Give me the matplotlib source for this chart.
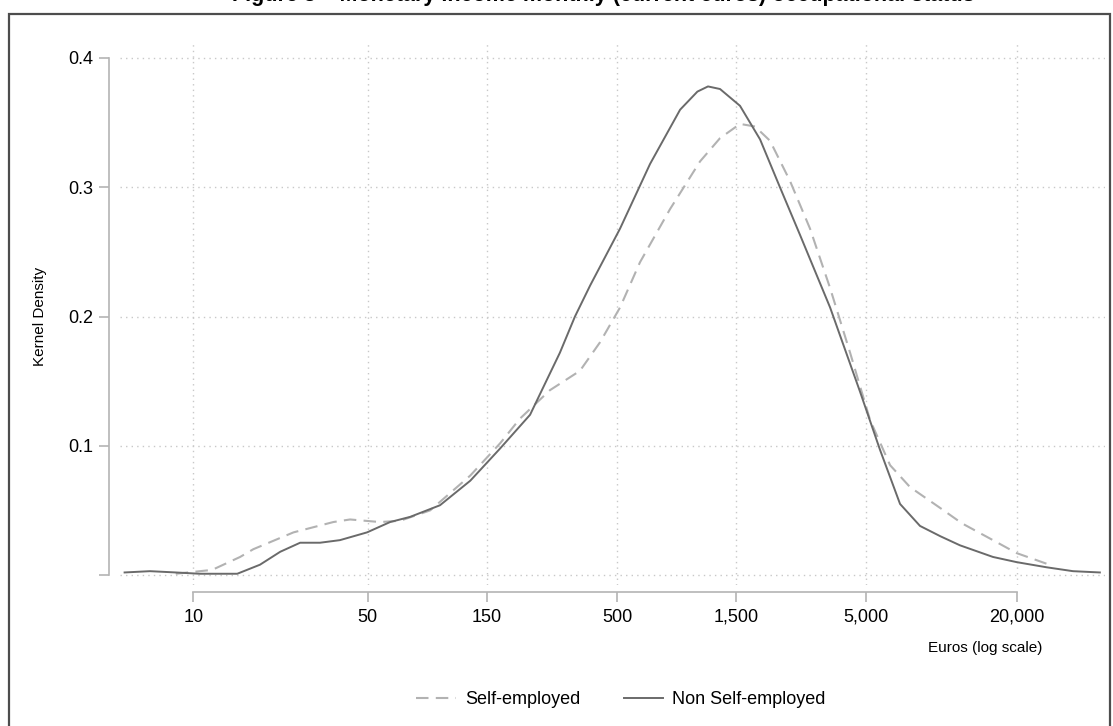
import matplotlib
matplotlib.use("Agg")
import matplotlib.pyplot as plt
from matplotlib.lines import Line2D
from matplotlib.patches import Rectangle

plt.rcParams['font.family'] = ['Liberation Sans', 'DejaVu Sans']

# Kernel density of monthly income (euros, density)
non_self_x = [5.3, 6.7, 8.5, 10.6, 15, 18.5, 22.3, 26.8, 32.2, 38.7, 49.7, 61.5,
              74, 97.5, 129, 170, 224, 257, 295, 339, 390, 514, 678, 895, 1050,
              1158, 1294, 1556, 1873, 2250, 2710, 3575, 4710, 5665, 6820, 8200,
              9900, 11860, 16080, 20000, 26400, 33650, 43150]
non_self_y = [0.002, 0.003, 0.002, 0.001, 0.001, 0.008, 0.018, 0.025, 0.025,
              0.027, 0.033, 0.041, 0.045, 0.054, 0.073, 0.098, 0.124, 0.148,
              0.172, 0.200, 0.224, 0.268, 0.318, 0.360, 0.374, 0.378, 0.376,
              0.363, 0.337, 0.300, 0.263, 0.207, 0.142, 0.097, 0.055, 0.038,
              0.030, 0.023, 0.014, 0.010, 0.006, 0.003, 0.002]

self_x = [8.5, 11.9, 15.4, 17.4, 25.2, 36.4, 42.5, 56, 67.5, 89, 129, 170, 204,
          269, 355, 427, 514, 618, 815, 1076, 1294, 1556, 1787, 2052, 2467,
          2970, 3575, 4300, 5170, 6220, 7480, 9860, 12080, 16080, 20000, 28000]
self_y = [0.001, 0.004, 0.014, 0.020, 0.033, 0.041, 0.043, 0.041, 0.042, 0.050,
          0.077, 0.102, 0.121, 0.143, 0.158, 0.180, 0.207, 0.242, 0.283, 0.320,
          0.338, 0.349, 0.347, 0.336, 0.305, 0.268, 0.222, 0.172, 0.120,
          0.085, 0.068, 0.052, 0.040, 0.027, 0.017, 0.007]

x_ticks = [10, 50, 150, 500, 1500, 5000, 20000]
x_labels = ['10', '50', '150', '500', '1,500', '5,000', '20,000']
y_ticks = [0, 0.1, 0.2, 0.3, 0.4]
y_labels = ['', '0.1', '0.2', '0.3', '0.4']

W, H = 1113, 726
fig = plt.figure(figsize=(W / 100, H / 100), dpi=100)


def fx(px):
    return px / W


def fy(py):
    return 1 - py / H


# outer frame (runs off the bottom of the image)
fig.patches.append(Rectangle((fx(9), fy(740)), fx(1110) - fx(9), fy(14) - fy(740),
                             transform=fig.transFigure, fill=False,
                             edgecolor='#4d4d4d', linewidth=1.6))

# title, cut off at the top like in the original
fig.text(fx(603), fy(1.5), 'Figure 3 \u2013 Monetary income monthly (current euros) occupational status',
         ha='center', va='baseline', fontsize=15.5, fontweight='bold')

ax = fig.add_axes([fx(120), fy(585), fx(1105) - fx(120), fy(43) - fy(585)])

solid_col = '#6a6a6a'
dash_col = '#b2b2b2'
ax.plot(self_x, self_y, color=dash_col, lw=1.5, dashes=(6, 3.5))
ax.plot(non_self_x, non_self_y, color=solid_col, lw=1.4)

ax.set_xscale('log')
ax.set_xlim(5.08, 45250)
ax.set_ylim(-0.0077, 0.4116)

ax.set_xticks(x_ticks)
ax.set_xticklabels(x_labels)
ax.minorticks_off()
ax.set_yticks(y_ticks)
ax.set_yticklabels(y_labels)

ax.grid(True, linestyle=(0, (1, 3)), color='#c8c8c8', linewidth=1)
ax.set_axisbelow(True)

for s in ['top', 'right']:
    ax.spines[s].set_visible(False)
ax.spines['left'].set_position(('outward', 8))
ax.spines['bottom'].set_position(('outward', 5))
ax.spines['left'].set_bounds(0, 0.4)
ax.spines['bottom'].set_bounds(10, 20000)
for s in ['left', 'bottom']:
    ax.spines[s].set_color('#b4b4b4')
    ax.spines[s].set_linewidth(1.2)
ax.tick_params(axis='both', length=7, width=1.2, color='#b4b4b4',
               labelsize=13, labelcolor='black')
ax.tick_params(axis='x', pad=5)
ax.tick_params(axis='y', pad=4)

fig.text(fx(40), fy(316), 'Kernel Density', rotation=90, ha='center', va='center', fontsize=11)
fig.text(fx(1042), fy(648), 'Euros (log scale)', ha='right', va='center', fontsize=11)

handles = [Line2D([], [], color=dash_col, lw=1.5, dashes=(6, 3.5)),
           Line2D([], [], color=solid_col, lw=1.4)]
fig.legend(handles, ['Self-employed', 'Non Self-employed'], loc='center',
           bbox_to_anchor=(fx(621), fy(700)), ncol=2, frameon=False,
           fontsize=13, handlelength=2.2, handletextpad=0.5, columnspacing=2.4)

fig.savefig('out.png', dpi=100)
